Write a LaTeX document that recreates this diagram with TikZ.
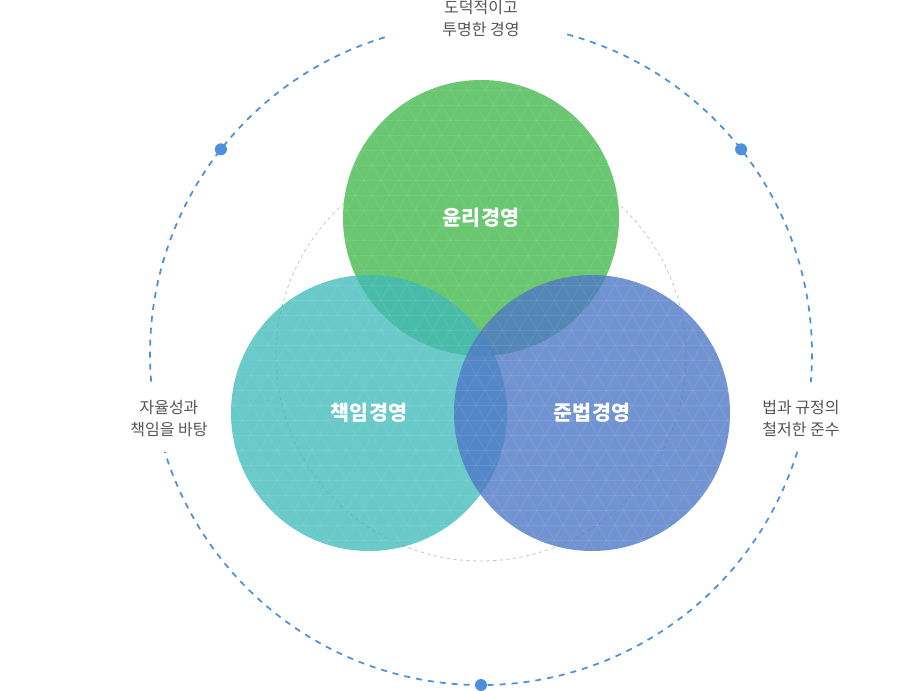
\documentclass[tikz,border=0pt]{standalone}
\usepackage{fontspec}
\usetikzlibrary{calc}
\setmainfont{Noto Sans CJK KR}
\definecolor{dashblue}{HTML}{4A90DC}
\definecolor{cgreen}{HTML}{6AC771}
\definecolor{cteal}{HTML}{40BABA}
\definecolor{cblue}{HTML}{4F78C6}
\definecolor{labelgray}{HTML}{555555}
\tikzset{
  bigdash/.style={draw=dashblue, line width=1.3pt, dash pattern=on 4.5pt off 4.5pt},
  innerdash/.style={draw=gray!45, line width=0.6pt, dash pattern=on 2.5pt off 2.5pt},
  dotmark/.style={circle, fill=dashblue, inner sep=0pt, minimum size=9pt},
  sidelabel/.style={text=labelgray, align=center, font=\fontsize{12}{16.5}\selectfont},
  venn/.style={circle, inner sep=0pt, minimum size=207pt},
  vennlabel/.style={text=white, font=\fontsize{15.5}{18}\selectfont\bfseries},
  texture/.style={draw=white, draw opacity=0.08, line width=0.5pt}
}
\begin{document}
\begin{tikzpicture}[x=0.75pt,y=-0.75pt]
\useasboundingbox (0,0) rectangle (913,691);
\coordinate (C) at (481,354);
\coordinate (IC) at (481,356);
% outer dashed circle, broken where labels sit
\draw[bigdash] (C) ++(285.1:331) arc[start angle=285.1, end angle=364.9, radius=331];
\draw[bigdash] (C) ++(17.2:331) arc[start angle=17.2, end angle=162.8, radius=331];
\draw[bigdash] (C) ++(175.2:331) arc[start angle=175.2, end angle=254.1, radius=331];
% dots
\node[dotmark] (d1) at ($(C)+(218.2:331)$) {};
\node[dotmark] (d2) at ($(C)+(321.8:331)$) {};
\node[dotmark] (d3) at ($(C)+(90:331)$) {};
% inner gray dashed circle
\draw[innerdash] (IC) circle[radius=205];
% venn circles
\node[venn, fill=cgreen] (eth) at (481,218) {};
\node[venn, fill=cteal, fill opacity=0.78] (res) at (369,413) {};
\node[venn, fill=cblue, fill opacity=0.8] (law) at (592,413) {};
% faint triangular texture
\begin{scope}
  \clip (eth.center) circle[radius=138] (res.center) circle[radius=138] (law.center) circle[radius=138];
  \foreach \k in {5,...,37} { \draw[texture] (220,\k*15) -- (740,\k*15); }
  \foreach \k in {-10,...,40} { \draw[texture] (\k*17.32,60) -- (\k*17.32+288.7,560); }
  \foreach \k in {10,...,60} { \draw[texture] (\k*17.32,60) -- (\k*17.32-288.7,560); }
\end{scope}
\node[vennlabel] (teth) at (eth) {윤리경영};
\node[vennlabel] (tres) at (res) {책임경영};
\node[vennlabel] (tlaw) at (law) {준법경영};
% side labels
\node[sidelabel] (ltop) at (481,19) {도덕적이고\\투명한 경영};
\node[sidelabel] (lleft) at (169,419) {자율성과\\책임을 바탕};
\node[sidelabel] (lright) at (801,419) {법과 규정의\\철저한 준수};
\end{tikzpicture}
\end{document}
